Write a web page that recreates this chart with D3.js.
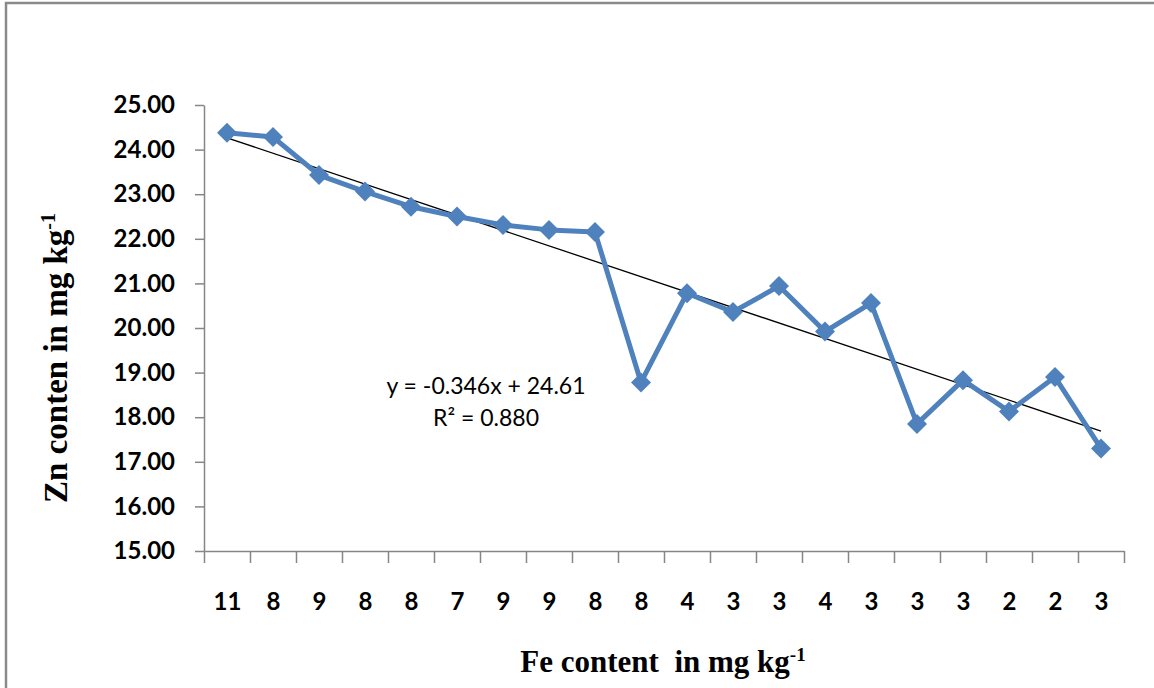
<!DOCTYPE html>
<html>
<head>
<meta charset="utf-8">
<script src="https://cdn.jsdelivr.net/npm/d3@7"></script>
<style>
  html, body { margin: 0; padding: 0; background: #fff; }
  svg { display: block; }
  .tick text { font-family: Lato, "Open Sans", sans-serif; font-weight: bold; fill: #000; }
  .domain, .tick line { stroke: #868686; stroke-width: 1.5; }
</style>
</head>
<body>
<div id="chart"></div>
<script>
  "use strict";

  // Fe content labels (one per sample) and Zn content values
  var feLabels = ["11", "8", "9", "8", "8", "7", "9", "9", "8", "8",
                  "4", "3", "3", "4", "3", "3", "3", "2", "2", "3"];
  var znValues = [24.38, 24.28, 23.43, 23.06, 22.72, 22.50, 22.31, 22.20, 22.15, 18.78,
                  20.78, 20.36, 20.94, 19.92, 20.56, 17.85, 18.83, 18.13, 18.90, 17.30];
  var yTicks = [15, 16, 17, 18, 19, 20, 21, 22, 23, 24, 25];
  var trendSlope = -0.346;
  var trendIntercept = 24.61;
  var trendLabel = ["y = -0.346x + 24.61", "R² = 0.880"];

  var width = 1154, height = 688;
  var svg = d3.select("#chart").append("svg")
    .attr("width", width)
    .attr("height", height);

  // outer frame (only top and left edges show in the picture)
  svg.append("rect")
    .attr("x", 6).attr("y", 3)
    .attr("width", 1170).attr("height", 700)
    .attr("fill", "none")
    .attr("stroke", "#8a8a8a")
    .attr("stroke-width", 2.5);

  var x = d3.scaleLinear().domain([0.5, feLabels.length + 0.5]).range([204, 1124]);
  var y = d3.scaleLinear().domain([15, 25]).range([551, 105]);

  // y axis
  svg.append("g")
    .attr("transform", "translate(204,0)")
    .call(d3.axisLeft(y).tickValues(yTicks).tickFormat(d3.format(".2f")).tickSize(9).tickPadding(20).tickSizeOuter(0))
    .selectAll("text").style("font-size", "24px");

  // x axis: boundary ticks
  var bounds = d3.range(0, feLabels.length + 1).map(function (i) { return i + 0.5; });
  svg.append("g")
    .attr("transform", "translate(0,551)")
    .call(d3.axisBottom(x).tickValues(bounds).tickFormat("").tickSize(12).tickSizeOuter(0));

  // x axis: category labels
  var labelAxis = svg.append("g")
    .attr("transform", "translate(0,551)")
    .call(d3.axisBottom(x)
      .tickValues(d3.range(1, feLabels.length + 1))
      .tickFormat(function (d) { return feLabels[d - 1]; })
      .tickSize(0).tickPadding(42));
  labelAxis.select(".domain").remove();
  labelAxis.selectAll("text").style("font-size", "24px");

  // trend line
  svg.append("line")
    .attr("x1", x(1)).attr("y1", y(trendSlope * 1 + trendIntercept))
    .attr("x2", x(feLabels.length)).attr("y2", y(trendSlope * feLabels.length + trendIntercept))
    .attr("stroke", "#000")
    .attr("stroke-width", 1.3);

  // series line
  var line = d3.line()
    .x(function (d, i) { return x(i + 1); })
    .y(function (d) { return y(d); });

  svg.append("path")
    .datum(znValues)
    .attr("d", line)
    .attr("fill", "none")
    .attr("stroke", "#4F81BD")
    .attr("stroke-width", 5)
    .attr("stroke-linejoin", "round");

  svg.selectAll(".marker")
    .data(znValues)
    .enter().append("path")
    .attr("class", "marker")
    .attr("d", d3.symbol().type(d3.symbolSquare).size(200))
    .attr("transform", function (d, i) { return "translate(" + x(i + 1) + "," + y(d) + ") rotate(45)"; })
    .attr("fill", "#4F81BD");

  // trend equation
  svg.append("text")
    .attr("x", 486).attr("y", 394)
    .attr("text-anchor", "middle")
    .style("font-family", "Lato, 'Open Sans', sans-serif")
    .style("font-size", "23px")
    .text(trendLabel[0]);
  svg.append("text")
    .attr("x", 486).attr("y", 426)
    .attr("text-anchor", "middle")
    .style("font-family", "Lato, 'Open Sans', sans-serif")
    .style("font-size", "23px")
    .text(trendLabel[1]);

  // axis titles
  var xTitle = svg.append("text")
    .attr("x", 663).attr("y", 672)
    .attr("text-anchor", "middle")
    .style("white-space", "pre")
    .style("font-family", "'Liberation Serif', 'Times New Roman', serif")
    .style("font-weight", "bold")
    .style("font-size", "31px");
  xTitle.append("tspan").text("Fe content  in mg kg");
  xTitle.append("tspan").attr("dy", -11).style("font-size", "19px").text("-1");

  var yTitle = svg.append("text")
    .attr("transform", "translate(67,358) rotate(-90)")
    .attr("text-anchor", "middle")
    .style("font-family", "'Liberation Serif', 'Times New Roman', serif")
    .style("font-weight", "bold")
    .style("font-size", "33px");
  yTitle.append("tspan").text("Zn conten in mg kg");
  yTitle.append("tspan").attr("dy", -12).style("font-size", "20px").text("-1");
</script>
</body>
</html>
